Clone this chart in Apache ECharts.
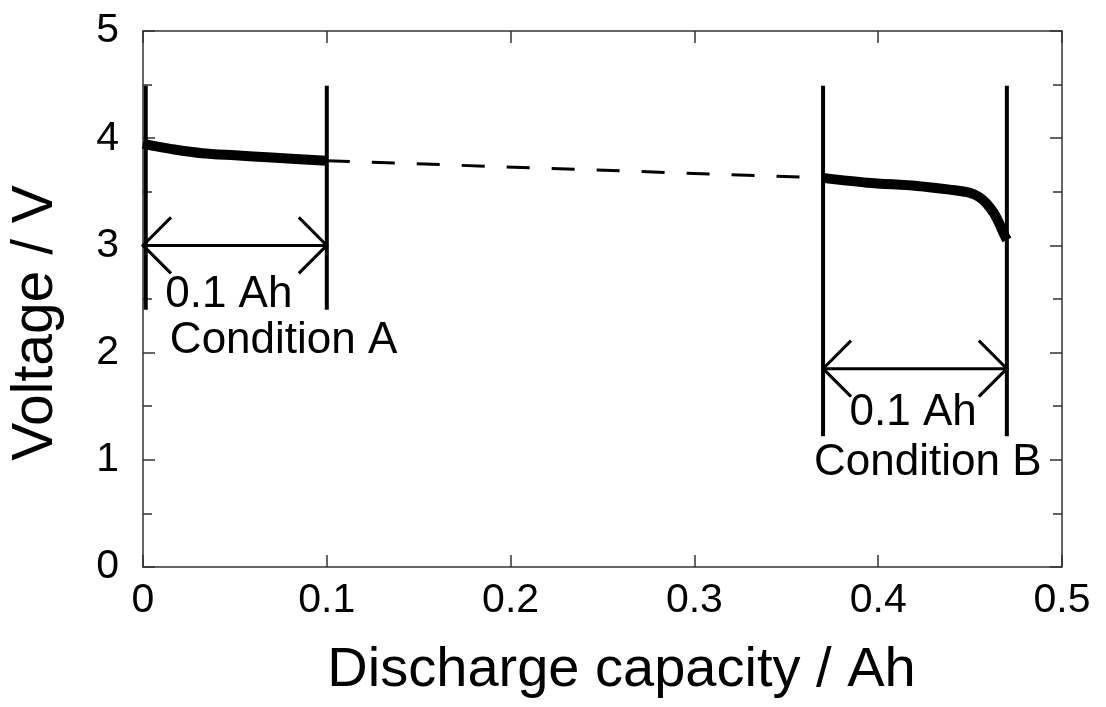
<!DOCTYPE html>
<html>
<head>
<meta charset="utf-8">
<script src="https://cdn.jsdelivr.net/npm/echarts@6/dist/echarts.min.js"></script>
<style>
html,body{margin:0;padding:0;background:#fff;}
#chart{width:1106px;height:707px;}
</style>
</head>
<body>
<div id="chart"></div>
<script>
// Discharge curve, condition A (capacity Ah, voltage V)
const curveA_x = [0, 0.005, 0.015, 0.032, 0.05, 0.07, 0.1];
const curveA_y = [3.95, 3.93, 3.90, 3.86, 3.84, 3.82, 3.79];
// Discharge curve, condition B
const curveB_x = [0.370, 0.394, 0.421, 0.439, 0.450, 0.455, 0.459, 0.463, 0.466, 0.468, 0.470];
const curveB_y = [3.63, 3.585, 3.555, 3.52, 3.49, 3.45, 3.39, 3.30, 3.20, 3.12, 3.05];
// Dashed connection between the two windows
const gap_x = [0.1, 0.37];
const gap_y = [3.79, 3.63];
// Window boundary lines: [capacity, V bottom, V top]
const boundaries = [[0.0015, 2.40, 4.49], [0.1, 2.40, 4.49], [0.370, 1.22, 4.49], [0.470, 1.22, 4.49]];
// Width arrows: [from capacity, to capacity, voltage]
const arrows = [[0, 0.1, 3.0], [0.370, 0.470, 1.85]];
// Annotation texts and positions
const annoText = ['0.1 Ah', 'Condition A', '0.1 Ah', 'Condition B'];
const annoX = [0.0467, 0.0765, 0.419, 0.427];
const annoY = [2.54, 2.11, 1.44, 0.97];
// Axis ticks
const xTicks = [0, 0.1, 0.2, 0.3, 0.4, 0.5];
const yTicks = [0, 1, 2, 3, 4, 5];

const FONT = '"Liberation Sans", Arial, sans-serif';
const chart = echarts.init(document.getElementById('chart'), null, {renderer: 'canvas'});

const axisLine = {show: true, onZero: false, lineStyle: {color: '#333', width: 1.5}};
const axisTick = {show: true, inside: true, length: 12, lineStyle: {color: '#333', width: 1.5}};
const minorY = {show: true, splitNumber: 2, length: 9, lineStyle: {color: '#333', width: 1.5}};

function zip(xs, ys) { return xs.map((x, i) => [x, ys[i]]); }

const option = {
  animation: false,
  backgroundColor: '#fff',
  grid: {left: 141, top: 31, right: 44, bottom: 140, containLabel: false},
  xAxis: [
    {
      type: 'value', position: 'bottom', min: xTicks[0], max: xTicks[xTicks.length - 1], interval: 0.1,
      axisLine: axisLine, axisTick: axisTick, splitLine: {show: false},
      axisLabel: {color: '#000', fontSize: 41, fontFamily: FONT, margin: 13,
        formatter: v => String(+v.toFixed(1))},
      name: 'Discharge capacity / Ah', nameLocation: 'middle', nameGap: 76,
      nameTextStyle: {color: '#000', fontSize: 56, fontFamily: FONT, padding: [0, 0, 0, 38]}
    },
    {
      type: 'value', position: 'top', min: xTicks[0], max: xTicks[xTicks.length - 1], interval: 0.1,
      axisLine: axisLine, axisTick: axisTick, axisLabel: {show: false}, splitLine: {show: false}
    }
  ],
  yAxis: [
    {
      type: 'value', position: 'left', min: yTicks[0], max: yTicks[yTicks.length - 1], interval: 1,
      axisLine: axisLine, axisTick: axisTick, minorTick: minorY, splitLine: {show: false},
      axisLabel: {color: '#000', fontSize: 41, fontFamily: FONT, margin: 24},
      name: 'Voltage / V', nameLocation: 'middle', nameGap: 78,
      nameTextStyle: {color: '#000', fontSize: 57, fontFamily: FONT, padding: [0, 48, 0, 0]}
    },
    {
      type: 'value', position: 'right', min: yTicks[0], max: yTicks[yTicks.length - 1], interval: 1,
      axisLine: axisLine, axisTick: axisTick, minorTick: minorY, axisLabel: {show: false}, splitLine: {show: false}
    }
  ],
  series: [
    {
      type: 'custom', coordinateSystem: 'cartesian2d', data: boundaries, silent: true,
      renderItem: function (params, api) {
        const a = api.coord([api.value(0), api.value(1)]);
        const b = api.coord([api.value(0), api.value(2)]);
        return {type: 'line', shape: {x1: a[0], y1: a[1], x2: b[0], y2: b[1]},
          style: {stroke: '#000', lineWidth: 4}};
      }
    },
    {
      type: 'custom', coordinateSystem: 'cartesian2d', data: arrows, silent: true,
      renderItem: function (params, api) {
        const p1 = api.coord([api.value(0), api.value(2)]);
        const p2 = api.coord([api.value(1), api.value(2)]);
        const h = 28;
        const st = {stroke: '#000', lineWidth: 3, fill: null};
        return {type: 'group', children: [
          {type: 'line', shape: {x1: p1[0], y1: p1[1], x2: p2[0], y2: p2[1]}, style: st},
          {type: 'polyline', shape: {points: [[p1[0] + h, p1[1] - h], p1, [p1[0] + h, p1[1] + h]]}, style: st},
          {type: 'polyline', shape: {points: [[p2[0] - h, p2[1] - h], p2, [p2[0] - h, p2[1] + h]]}, style: st}
        ]};
      }
    },
    {
      type: 'line', data: zip(gap_x, gap_y), showSymbol: false, silent: true,
      lineStyle: {color: '#000', width: 3, type: [23, 22]}
    },
    {
      type: 'line', data: zip(curveA_x, curveA_y), showSymbol: false, silent: true, smooth: 0.3,
      lineStyle: {color: '#000', width: 10, cap: 'butt', join: 'round'}
    },
    {
      type: 'line', data: zip(curveB_x, curveB_y), showSymbol: false, silent: true, smooth: 0.3,
      lineStyle: {color: '#000', width: 10, cap: 'butt', join: 'round'}
    },
    {
      type: 'scatter', symbolSize: 0, silent: true,
      itemStyle: {opacity: 1, color: '#000'},
      data: annoText.map((t, i) => ({name: t, value: [annoX[i], annoY[i]]})),
      label: {show: true, position: 'inside', formatter: p => p.name, color: '#000',
        opacity: 1, textBorderWidth: 0, fontSize: 44, fontFamily: FONT}
    }
  ]
};
chart.setOption(option);
</script>
</body>
</html>
